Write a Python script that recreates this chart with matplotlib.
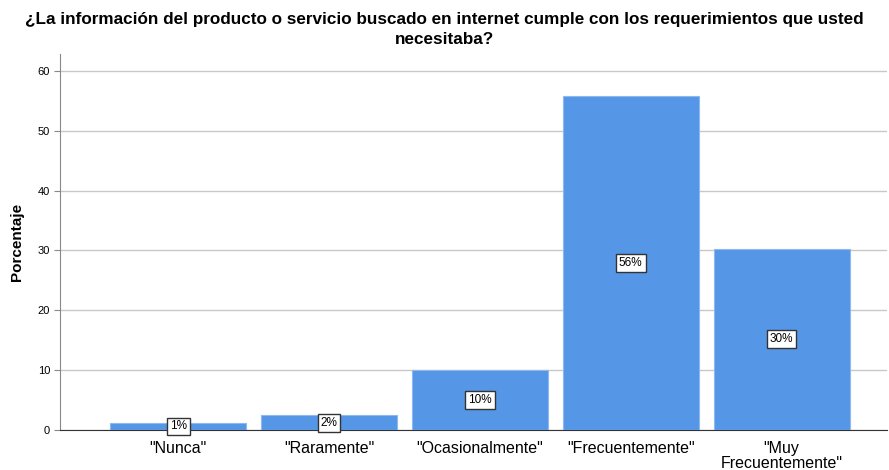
import matplotlib.pyplot as plt

categories = ['"Nunca"', '"Raramente"', '"Ocasionalmente"', '"Frecuentemente"', '"Muy\nFrecuentemente"']
porcentajes = [1.2, 2.5, 10.1, 55.8, 30.3]
etiquetas = ['1%', '2%', '10%', '56%', '30%']

plt.rcParams['font.family'] = ['Liberation Sans', 'DejaVu Sans']

fig, ax = plt.subplots(figsize=(8.89, 4.70), dpi=100)
fig.subplots_adjust(left=0.068, right=0.998, top=0.885, bottom=0.085)

x = range(len(categories))
ax.bar(x, porcentajes, width=0.9, color='#5596E6', edgecolor='#8DB8F0', linewidth=0.8, zorder=3)

# etiquetas en el centro de cada barra
for i, (v, t) in enumerate(zip(porcentajes, etiquetas)):
    ax.text(i, v / 2, t, ha='center', va='center', fontsize=8.5, zorder=4,
            bbox=dict(boxstyle='square,pad=0.25', facecolor='white', edgecolor='#333333', linewidth=1))

ax.set_xlim(-0.78, 4.70)
ax.set_ylim(0, 62.8)
ax.set_yticks([0, 10, 20, 30, 40, 50, 60])
ax.set_xticks(list(x))
ax.set_xticklabels(categories, fontsize=11.5, linespacing=0.95)
ax.tick_params(axis='y', labelsize=8, length=4, color='#888888')
ax.tick_params(axis='x', length=0, pad=8)

ax.yaxis.grid(True, color='#c8c8c8', linewidth=1, zorder=0)
ax.spines['top'].set_visible(False)
ax.spines['right'].set_visible(False)
ax.spines['left'].set_color('#888888')
ax.spines['bottom'].set_color('#333333')

ax.set_ylabel('Porcentaje', fontsize=11, fontweight='bold', labelpad=10)
fig.suptitle('¿La información del producto o servicio buscado en internet cumple con los requerimientos que usted\nnecesitaba?',
             x=0.5, y=0.975, fontsize=12.3, fontweight='bold', linespacing=1.45)

plt.savefig('out.png')
